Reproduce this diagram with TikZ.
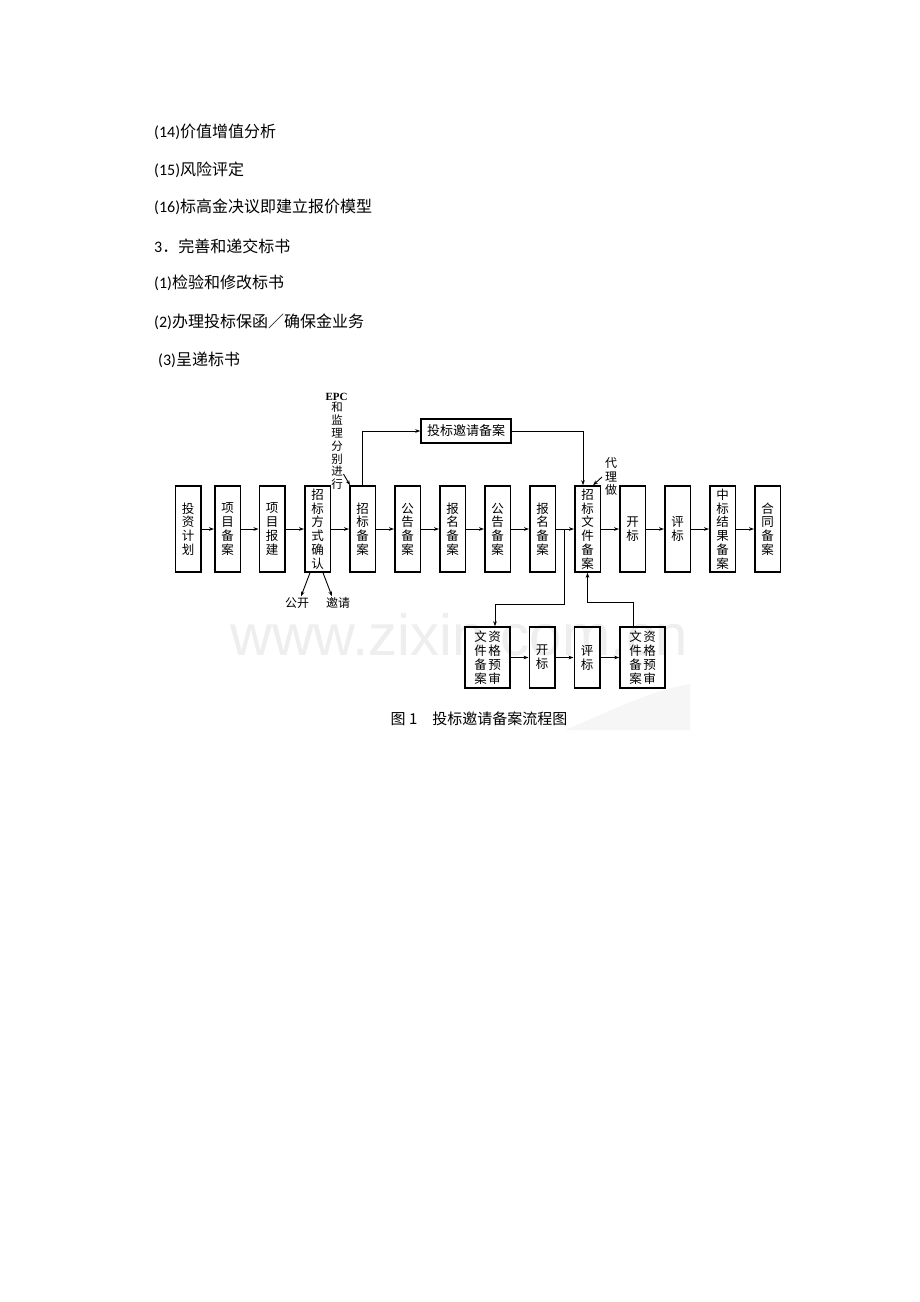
\documentclass[tikz,border=0pt]{standalone}
\usepackage{fontspec}
\newfontfamily\cjk{Noto Sans CJK SC}
\newfontfamily\carlito{Carlito}
\newfontfamily\epcfont{Liberation Serif}
\newfontfamily\wmfont{Liberation Sans}
\usetikzlibrary{arrows.meta}
\usetikzlibrary{calc}
\usetikzlibrary{positioning}

\tikzset{
	box/.style={draw, line width=1.5pt, minimum width=25.5pt, minimum height=86pt,
		inner sep=0pt, align=center, font=\fontsize{12.5}{13.7}\selectfont\cjk},
	lowbox/.style={box, minimum height=61pt, font=\fontsize{12.5}{14}\selectfont\cjk},
	arr/.style={line width=0.9pt, -{Stealth[length=5pt,width=3.6pt]}},
	para/.style={anchor=west, inner sep=0pt, font=\fontsize{16}{18}\selectfont\cjk},
	note/.style={inner sep=0pt, align=center, font=\fontsize{12}{13.5}\selectfont\cjk},
}

\begin{document}
\begin{tikzpicture}[x=1pt, y=-1pt]
	\useasboundingbox[fill=white] (0,0) rectangle (920,1302);
	% watermark
	\fill[gray!7] (565,730) .. controls (605,714) and (645,692) .. (690,684) -- (690,730) -- cycle;
	\node[font=\fontsize{58}{60}\selectfont\wmfont, text=gray!13] (wm) at (459,635) {www.zixin.com.cn};

	% text above the figure
	\node[para] (t14) at (154,132) {{\carlito (14)}价值增值分析};
	\node[para] (t15) at (154,170) {{\carlito (15)}风险评定};
	\node[para] (t16) at (154,207) {{\carlito (16)}标高金决议即建立报价模型};
	\node[para] (t3)  at (154,246) {{\carlito 3}．完善和递交标书};
	\node[para] (t31) at (154,283) {{\carlito (1)}检验和修改标书};
	\node[para] (t32) at (154,322) {{\carlito (2)}办理投标保函／确保金业务};
	\node[para] (t33) at (158,360) {{\carlito (3)}呈递标书};

	% main row
	\node[box] (b1)  at (188,529)   {投\\资\\计\\划};
	\node[box] (b2)  at (227.5,529) {项\\目\\备\\案};
	\node[box] (b3)  at (272,529)   {项\\目\\报\\建};
	\node[box] (b4)  at (317.5,529) {招\\标\\方\\式\\确\\认};
	\node[box] (b5)  at (362.5,529) {招\\标\\备\\案};
	\node[box] (b6)  at (407.5,529) {公\\告\\备\\案};
	\node[box] (b7)  at (452.5,529) {报\\名\\备\\案};
	\node[box] (b8)  at (497.5,529) {公\\告\\备\\案};
	\node[box] (b9)  at (542.5,529) {报\\名\\备\\案};
	\node[box] (b10) at (587.5,529) {招\\标\\文\\件\\备\\案};
	\node[box] (b11) at (632.5,529) {开\\标};
	\node[box] (b12) at (677.5,529) {评\\标};
	\node[box] (b13) at (722.5,529) {中\\标\\结\\果\\备\\案};
	\node[box] (b14) at (767.5,529) {合\\同\\备\\案};

	\draw[arr] (b1) -- (b2);
	\draw[arr] (b2) -- (b3);
	\draw[arr] (b3) -- (b4);
	\draw[arr] (b4) -- (b5);
	\draw[arr] (b5) -- (b6);
	\draw[arr] (b6) -- (b7);
	\draw[arr] (b7) -- (b8);
	\draw[arr] (b8) -- (b9);
	\draw[arr] (b9) -- (b10);
	\draw[arr] (b10) -- (b11);
	\draw[arr] (b11) -- (b12);
	\draw[arr] (b12) -- (b13);
	\draw[arr] (b13) -- (b14);

	% invitation branch
	\node[box, minimum width=90pt, minimum height=24pt, font=\fontsize{13}{14}\selectfont\cjk] (yq) at (466,431) {投标邀请备案};
	\draw[arr] (b5.north) |- (yq.west);
	\draw[arr] (yq.east) -| ([xshift=-4.5pt]b10.north);

	% notes
	\node[inner sep=0pt, font=\fontsize{11}{12}\selectfont\epcfont\bfseries] (epc) at (336.5,397) {EPC};
	\node[note, font=\fontsize{11.5}{12.8}\selectfont\cjk] (fb) at (337,446) {和\\监\\理\\分\\别\\进\\行};
	\coordinate (fbend) at (343.5,474);
	\draw[arr] (fbend) -- ([xshift=1pt]b5.north west);

	\node[note] (dl) at (611,476.5) {代\\理\\做};
	\coordinate (dlend) at (602,477);
	\draw[arr] (dlend) -- ([xshift=-8pt]b10.north east);

	\node[note, inner sep=1pt] (gk) at (297,603) {公开};
	\node[note, inner sep=1pt] (yy) at (338,603) {邀请};
	\draw[arr] ([xshift=-7.5pt]b4.south) -- ([xshift=4pt]gk.north);
	\draw[arr] ([xshift=5.5pt]b4.south) -- ([xshift=-6pt]yy.north);

	% pre-qualification row
	\node[lowbox, minimum width=45pt] (p1) at (487.5,657.5) {文\hspace{1.5pt}资\\件\hspace{1.5pt}格\\备\hspace{1.5pt}预\\案\hspace{1.5pt}审};
	\node[lowbox] (p2) at (542,657.5) {开\\标};
	\node[lowbox] (p3) at (587,657.5) {评\\标};
	\node[lowbox, minimum width=45pt] (p4) at (642.5,657.5) {文\hspace{1.5pt}资\\件\hspace{1.5pt}格\\备\hspace{1.5pt}预\\案\hspace{1.5pt}审};
	\draw[arr] (p1) -- (p2);
	\draw[arr] (p2) -- (p3);
	\draw[arr] (p3) -- (p4);

	\coordinate (br) at ($(b9.east)+(8,0)$);
	\draw[arr] (br) -- ++(0,75) -| ([xshift=7.5pt]p1.north);
	\draw[arr] ([xshift=-9.5pt]p4.north) -- ++(0,-24) -| (b10.south);

	% caption
	\node[inner sep=0pt, font=\fontsize{15}{17}\selectfont\cjk] (cap) at (479,719) {图 1\quad 投标邀请备案流程图};
\end{tikzpicture}
\end{document}
